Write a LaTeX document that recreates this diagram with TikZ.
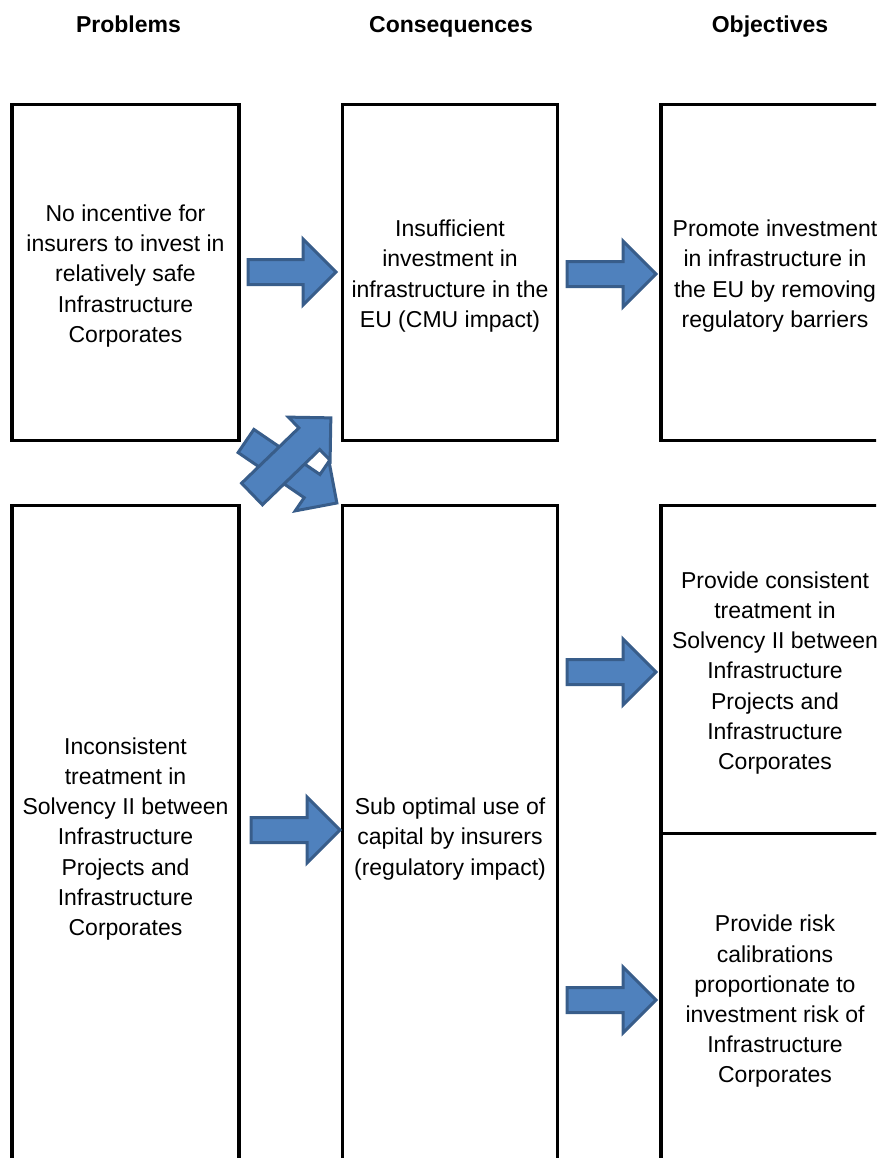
\documentclass[tikz,border=0pt]{standalone}
\usepackage{fontspec}
\setmainfont{Liberation Sans}
\definecolor{arrowfill}{HTML}{4F81BD}
\definecolor{arrowline}{HTML}{385D8A}
\newcommand{\blockarrow}[6]{%
  \draw[barrow, shift={(#1,#2)}, rotate=#3]
    (0,-#5) -- ({#4-#6},-#5) -- ({#4-#6},-#6) -- (#4,0) --
    ({#4-#6},#6) -- ({#4-#6},#5) -- (0,#5) -- cycle;}
\begin{document}
\begin{tikzpicture}[x=1pt,y=-1pt,
  box/.style={draw=black, line width=3.5pt, inner sep=0pt},
  boxtext/.style={align=center, inner sep=0pt, yshift=-3.5pt,
    font=\fontsize{23}{30.2}\selectfont},
  header/.style={font=\fontsize{23}{28}\selectfont\bfseries, inner sep=0pt, anchor=base},
  barrow/.style={draw=arrowline, fill=arrowfill, line width=3pt, line join=miter}]
\useasboundingbox (0,0) rectangle (876,1158);
\clip (0,0) rectangle (876,1158);

% headers
\node[header] (hp) at (128.5,33) {Problems};
\node[header] (hc) at (451,33) {Consequences};
\node[header] (ho) at (770,33) {Objectives};

% boxes
\node[box, minimum width=227pt, minimum height=336pt] (p1) at (125.5,272.5) {};
\node[box, minimum width=215pt, minimum height=336pt] (c1) at (450,272.5) {};
\node[box, minimum width=228pt, minimum height=336pt] (o1) at (775,272.5) {};
\node[box, minimum width=227pt, minimum height=660pt] (p2) at (125.5,835.5) {};
\node[box, minimum width=215pt, minimum height=660pt] (c2) at (450,835.5) {};
\node[box, minimum width=228pt, minimum height=328pt] (o2) at (775,669.5) {};
\node[box, minimum width=228pt, minimum height=329pt] (o3) at (775,998) {};

% box texts
\node[boxtext] (p1t) at (p1.center)
  {No incentive for\\insurers to invest in\\relatively safe\\Infrastructure\\Corporates};
\node[boxtext] (c1t) at (c1.center)
  {Insufficient\\investment in\\infrastructure in the\\EU (CMU impact)};
\node[boxtext] (o1t) at (o1.center)
  {Promote investment\\in infrastructure in\\the EU by removing\\regulatory barriers};
\node[boxtext] (p2t) at (p2.center)
  {Inconsistent\\treatment in\\Solvency II between\\Infrastructure\\Projects and\\Infrastructure\\Corporates};
\node[boxtext] (c2t) at (c2.center)
  {Sub optimal use of\\capital by insurers\\(regulatory impact)};
\node[boxtext] (o2t) at (o2.center)
  {Provide consistent\\treatment in\\Solvency II between\\Infrastructure\\Projects and\\Infrastructure\\Corporates};
\node[boxtext] (o3t) at (o3.center)
  {Provide risk\\calibrations\\proportionate to\\investment risk of\\Infrastructure\\Corporates};

% block arrows: tail x, tail y, angle, length, shaft half, head half
\blockarrow{248}{272}{0}{88}{12.5}{33}
\blockarrow{567}{274}{0}{89}{12.5}{33}
\blockarrow{567}{672}{0}{89}{12.5}{33}
\blockarrow{251}{830}{0}{89}{12.5}{33}
\blockarrow{567}{1000}{0}{89}{12.5}{33}
% crossed arrows
\blockarrow{246}{441}{-34.3}{110}{14}{30}
\blockarrow{252}{494}{44}{109.6}{15}{30}
\end{tikzpicture}
\end{document}
